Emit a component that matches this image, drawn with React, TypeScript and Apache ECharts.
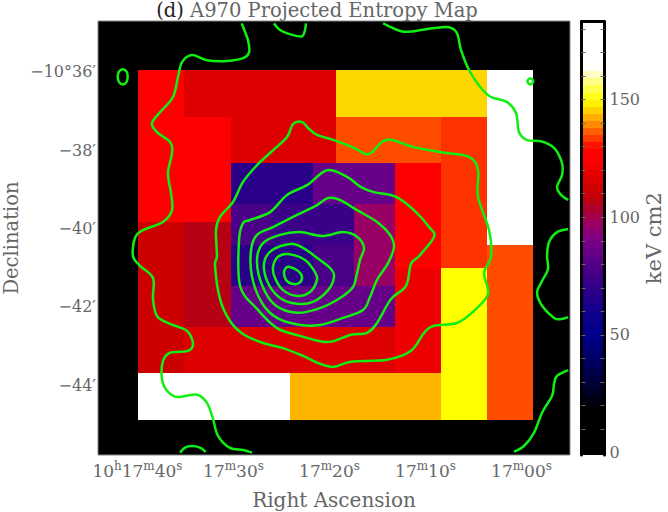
import React, { useEffect, useRef } from "react";
import * as echarts from "echarts";

const FONT = "DejaVu Serif";
const TEXT = "#666666";

const raTicks = [40, 30, 20, 10, 0];
const raLabels = ["10{u|h}17{u|m}40{u|s}", "17{u|m}30{u|s}", "17{u|m}20{u|s}", "17{u|m}10{u|s}", "17{u|m}00{u|s}"];
const decTicks = [-36, -38, -40, -42, -44];
const decLabels = ["−10°36′", "−38′", "−40′", "−42′", "−44′"];
const barLabelTicks = [0, 50, 100, 150];
const barMinorTicks = [10, 20, 30, 40, 50, 60, 70, 80, 90, 100, 110, 120, 130, 140, 150, 160, 170, 180];
const barLevels = [0, 3, 6, 9, 12, 15, 18, 21, 24, 27, 30, 33, 36, 39, 42, 45, 48, 51, 54, 57, 60, 63, 66, 69, 72, 75, 78, 81, 84, 87, 90, 93, 96, 99, 102, 105, 108, 111, 114, 117, 120, 123, 126, 129, 132, 135, 138, 141, 144, 147, 150, 153, 156, 159, 162, 165, 168, 171, 174, 177, 180];

// value -> colour
const paletteStops: [number, number, number, number][] = [
  [0, 0, 0, 0], [18, 0, 0, 0], [35, 0, 0, 80], [50, 0, 0, 140], [60, 16, 0, 140], [68, 42, 0, 136], [73, 58, 0, 136],
  [78, 75, 0, 136], [85, 102, 0, 136], [90, 122, 0, 136], [97, 153, 0, 102], [102, 168, 0, 60], [106, 184, 0, 21],
  [111, 204, 0, 0], [116, 221, 0, 0], [120, 238, 0, 0], [125, 255, 0, 0], [129, 255, 0, 0], [133, 255, 51, 0],
  [135, 255, 77, 0], [140, 255, 144, 0], [143, 255, 180, 0], [146, 255, 215, 0], [150, 255, 255, 0], [155, 255, 255, 85],
  [161, 255, 255, 204], [164, 255, 255, 255], [184, 255, 255, 255],
];

// cells: RA east, RA west (s), Dec north, Dec south (arcmin), entropy
const cells: [number, number, number, number, number][] = [
  [39.95, 35.15, -35.96, -37.145, 125],
  [39.95, 35.15, -37.145, -39.84, 125],
  [35.15, 30.23, -37.145, -39.84, 125],
  [35.15, 19.32, -35.96, -37.145, 116],
  [30.23, 19.32, -37.145, -38.33, 116],
  [19.32, 3.59, -35.96, -37.145, 146],
  [19.32, 8.35, -37.145, -38.33, 135],
  [8.35, 3.59, -37.145, -41.0, 133],
  [3.59, -1.23, -35.96, -40.42, 175],
  [3.59, -1.23, -40.42, -44.88, 135],
  [13.17, 8.35, -38.33, -41.0, 125],
  [13.17, 8.35, -41.0, -43.68, 120],
  [8.35, 3.59, -41.0, -44.88, 150],
  [39.95, 35.15, -39.84, -43.68, 111],
  [35.15, 30.23, -39.84, -42.51, 106],
  [35.15, 13.17, -42.51, -43.68, 116],
  [39.95, 24.11, -43.68, -44.88, 175],
  [24.11, 8.35, -43.68, -44.88, 143],
  [30.23, 21.72, -38.33, -39.37, 68],
  [21.72, 13.17, -38.33, -39.37, 85],
  [30.23, 25.99, -39.37, -40.42, 78],
  [25.99, 17.45, -39.37, -40.42, 73],
  [17.45, 13.17, -39.37, -40.42, 97],
  [30.23, 21.72, -40.42, -41.46, 68],
  [21.72, 17.45, -40.42, -41.46, 78],
  [17.45, 13.17, -40.42, -41.46, 97],
  [30.23, 13.17, -41.46, -42.51, 85],
];

const contourOuterLeft = [[29.14,-34.76],[28.49,-35.19],[28.38,-35.5],[29.01,-35.65],[30.67,-35.72],[32.76,-35.7],[34.32,-35.57],[35.36,-35.75],[35.78,-36.13],[36.3,-36.64],[37.65,-37.03],[38.49,-37.31],[37.97,-37.54],[36.61,-37.79],[36.4,-38.07],[36.82,-38.58],[36.51,-39.09],[36.4,-39.53],[37.34,-39.83],[39.42,-40.04],[40.26,-40.24],[40.47,-40.7],[39.74,-40.95],[38.38,-41.26],[38.38,-41.8],[37.97,-42.23],[36.61,-42.43],[34.84,-42.61],[34.22,-42.94],[34.74,-43.12],[36.61,-43.17],[37.34,-43.38],[37.45,-43.84],[36.92,-44.14],[35.88,-44.3],[33.8,-44.24],[32.76,-44.45],[32.13,-44.86],[31.61,-45.29],[30.36,-45.6],[29.01,-45.65],[28.07,-45.72]];
const contourTopSmall = [[25.78,-34.76],[25.15,-34.93],[23.8,-35.06],[22.86,-35.09],[22.55,-34.93],[22.45,-34.76]];
const contourIslandLeft = [[41.54,-35.93],[41.14,-35.99],[41.02,-36.12],[41.14,-36.26],[41.54,-36.32],[41.92,-36.26],[42.06,-36.12],[41.92,-35.99],[41.54,-35.93]];
const contourIslandRight = [[-0.92,-36.16],[-1.23,-36.24],[-0.92,-36.32],[-0.61,-36.24],[-0.92,-36.16]];
const contourBottomArc = [[35.57,-45.72],[35.05,-45.59],[34.35,-45.55],[33.49,-45.59],[32.89,-45.7]];
const contourTopRight = [[14.42,-34.76],[12.55,-34.96],[11.2,-34.96],[9.11,-34.88],[7.55,-34.86],[6.72,-35.01],[6.3,-35.44],[5.47,-35.95],[4.22,-36.41],[3.17,-36.64],[1.51,-36.77],[0.57,-37.05],[0.26,-37.54],[-0.58,-37.74],[-2.03,-37.77],[-3.39,-37.94],[-4.22,-38.33],[-4.22,-38.63],[-3.7,-38.94],[-4.12,-39.14],[-4.85,-39.27]];
const contourRightArc = [[-4.85,-40.01],[-3.7,-40.09],[-2.87,-40.34],[-2.66,-40.7],[-2.76,-41.03],[-2.14,-41.34],[-1.62,-41.64],[-2.14,-41.97],[-3.39,-42.28],[-4.12,-42.31],[-4.85,-42.26]];
const contourBottomRight = [[-4.85,-43.61],[-3.7,-43.76],[-3.39,-43.96],[-3.18,-44.27],[-2.14,-44.7],[-1.31,-45.21],[-0.26,-45.55],[0.78,-45.7]];
const contourB = [[22.86,-37.28],[22.24,-37.43],[21.3,-37.61],[19.53,-37.74],[17.45,-37.94],[16.2,-38.1],[15.57,-38.05],[14.53,-37.79],[13.49,-37.74],[11.2,-37.92],[8.38,-38.05],[5.47,-38.17],[4.53,-38.51],[4.53,-39.19],[3.38,-40.04],[3.17,-40.7],[3.9,-41.13],[3.49,-41.67],[4.95,-42.1],[6.72,-42.41],[9.11,-42.48],[10.15,-42.66],[11.51,-43.12],[14.01,-43.35],[17.76,-43.4],[19.53,-43.53],[20.99,-43.45],[22.76,-43.25],[24.84,-43.05],[26.92,-42.92],[29.01,-42.69],[30.36,-42.36],[31.4,-41.8],[31.92,-40.95],[31.72,-40.7],[31.82,-40.04],[31.4,-39.7],[30.05,-39.32],[29.01,-38.81],[27.55,-38.38],[25.88,-38.0],[24.42,-37.66],[23.8,-37.33],[22.86,-37.28]];
const contourC = [[20.26,-38.51],[18.17,-38.68],[16.72,-38.94],[15.36,-39.07],[13.07,-39.19],[11.2,-39.53],[9.63,-39.96],[9.11,-40.21],[10.67,-40.7],[11.51,-40.9],[12.03,-41.46],[13.59,-41.8],[15.05,-42.41],[16.09,-42.66],[17.76,-42.71],[19.53,-42.87],[20.67,-42.89],[23.07,-42.74],[25.47,-42.54],[27.55,-42.05],[29.32,-41.46],[29.42,-40.29],[29.01,-39.86],[28.28,-39.78],[26.19,-39.58],[24.42,-39.14],[22.34,-38.89],[20.26,-38.51]];
const contourD = [[20.15,-39.22],[18.9,-39.27],[17.13,-39.53],[15.05,-39.83],[13.7,-40.16],[13.28,-40.47],[13.9,-40.88],[15.05,-41.31],[15.78,-41.75],[16.51,-42.08],[18.59,-42.28],[20.99,-42.46],[23.07,-42.46],[25.47,-42.28],[27.03,-41.9],[28.07,-41.23],[28.17,-40.55],[27.55,-40.16],[25.88,-39.96],[23.38,-39.65],[21.3,-39.4],[20.15,-39.22]];
const contourE = [[23.07,-40.09],[20.78,-40.19],[18.59,-40.09],[17.13,-40.21],[16.4,-40.49],[16.82,-40.8],[17.13,-41.13],[17.55,-41.49],[18.9,-41.77],[20.99,-42.03],[23.38,-42.15],[25.67,-41.95],[27.03,-41.44],[27.55,-40.8],[26.92,-40.37],[25.15,-40.16],[23.07,-40.09]];
const contourF = [[24.11,-40.39],[22.76,-40.49],[21.72,-40.67],[19.95,-41.0],[19.53,-41.23],[20.15,-41.57],[21.72,-41.87],[23.38,-41.92],[25.15,-41.77],[26.4,-41.39],[26.82,-40.88],[25.99,-40.55],[24.11,-40.39]];
const contourG = [[24.32,-40.65],[22.55,-40.8],[21.51,-41.11],[21.3,-41.31],[22.03,-41.62],[23.38,-41.72],[24.84,-41.57],[25.67,-41.26],[25.88,-40.98],[25.36,-40.72],[24.32,-40.65]];
const contourH = [[24.11,-40.98],[23.28,-41.08],[22.86,-41.23],[23.17,-41.39],[23.9,-41.41],[24.53,-41.31],[24.74,-41.13],[24.53,-41.0],[24.11,-40.98]];

const contours = [contourOuterLeft, contourTopSmall, contourIslandLeft, contourIslandRight, contourBottomArc, contourTopRight, contourRightArc, contourBottomRight, contourB, contourC, contourD, contourE, contourF, contourG, contourH];

function colorOf(v: number): string {
  for (let i = 1; i < paletteStops.length; i++) {
    const a = paletteStops[i - 1];
    const b = paletteStops[i];
    if (v <= b[0]) {
      const t = (v - a[0]) / (b[0] - a[0] || 1);
      const c = [1, 2, 3].map((k) => Math.round(a[k] + (b[k] - a[k]) * t));
      return `rgb(${c[0]},${c[1]},${c[2]})`;
    }
  }
  return "#fff";
}

// Catmull-Rom through projected points; closed when first and last coincide.
function splinePath(p: number[][]): string {
  const n = p.length;
  const closed = p[0][0] === p[n - 1][0] && p[0][1] === p[n - 1][1];
  const at = (i: number) => {
    if (closed) return p[((i % (n - 1)) + (n - 1)) % (n - 1)];
    return p[Math.max(0, Math.min(n - 1, i))];
  };
  let d = `M${p[0][0].toFixed(2)} ${p[0][1].toFixed(2)}`;
  for (let i = 0; i < n - 1; i++) {
    const p0 = at(i - 1);
    const p1 = at(i);
    const p2 = at(i + 1);
    const p3 = at(i + 2);
    const c1 = [p1[0] + (p2[0] - p0[0]) / 6, p1[1] + (p2[1] - p0[1]) / 6];
    const c2 = [p2[0] - (p3[0] - p1[0]) / 6, p2[1] - (p3[1] - p1[1]) / 6];
    d += `C${c1[0].toFixed(2)} ${c1[1].toFixed(2)} ${c2[0].toFixed(2)} ${c2[1].toFixed(2)} ${p2[0].toFixed(2)} ${p2[1].toFixed(2)}`;
  }
  return d;
}

const barStep = 3;

export default function App() {
  const ref = useRef<HTMLDivElement>(null);
  useEffect(() => {
    const chart = echarts.init(ref.current!, null, { renderer: "svg" });
    const labelBase = { fontFamily: FONT, color: TEXT, fontSize: 16 };
    const nameBase = { fontFamily: FONT, color: TEXT, fontSize: 20 };
    chart.setOption({
      animation: false,
      backgroundColor: "#fff",
      title: {
        text: "{d|(d)} A970 Projected Entropy Map",
        left: 317,
        top: 1,
        padding: 0,
        textAlign: "center",
        textStyle: {
          fontFamily: FONT,
          fontWeight: "normal",
          fontSize: 19.5,
          lineHeight: 19,
          color: TEXT,
          rich: { d: { fontFamily: FONT, fontSize: 19.5, lineHeight: 19, color: "#222" } },
        },
      },
      grid: [
        { left: 98, top: 21, width: 472, height: 434, show: true, backgroundColor: "#000", borderColor: "#888", borderWidth: 1, outerBoundsMode: "none" },
        { left: 581.5, top: 21.5, width: 23, height: 433.5, show: false, outerBoundsMode: "none" },
      ],
      xAxis: [
        {
          type: "value",
          gridIndex: 0,
          inverse: true,
          min: -5.05,
          max: 44.11,
          splitLine: { show: false },
          axisLine: { show: false },
          axisTick: { show: false },
          axisLabel: {
            ...labelBase,
            fontSize: 17,
            margin: 5,
            customValues: raTicks,
            hideOverlap: false,
            formatter: (v: number) => raLabels[raTicks.indexOf(v)],
            rich: { u: { ...labelBase, fontSize: 12, padding: [0, 0, 9, 0] } },
          },
          name: "Right Ascension",
          nameLocation: "middle",
          nameGap: 35,
          nameTextStyle: nameBase,
        },
        {
          type: "value",
          gridIndex: 1,
          position: "top",
          min: 0,
          max: 1,
          z: 5,
          splitLine: { show: false },
          axisLine: { show: true, onZero: false, lineStyle: { color: "#000", width: 3 } },
          axisTick: { show: false },
          axisLabel: { show: false },
        },
      ],
      yAxis: [
        {
          type: "value",
          gridIndex: 0,
          min: -45.78,
          max: -34.7,
          splitLine: { show: false },
          axisLine: { show: false },
          axisTick: { show: false },
          axisLabel: {
            ...labelBase,
            margin: 2,
            customValues: decTicks,
            hideOverlap: false,
            formatter: (v: number) => decLabels[decTicks.indexOf(v)],
          },
          name: "Declination",
          nameLocation: "middle",
          nameGap: 77,
          nameMoveOverlap: false,
          nameTextStyle: { ...nameBase, fontSize: 19.5, lineHeight: 20 },
        },
        {
          type: "value",
          gridIndex: 1,
          position: "right",
          min: -1.06,
          max: 183.2,
          z: 5,
          splitLine: { show: false },
          axisLine: { show: true, onZero: false, lineStyle: { color: "#000", width: 3 } },
          axisTick: { show: true, inside: true, length: 4, customValues: barMinorTicks, lineStyle: { color: "#666" } },
          axisLabel: {
            ...labelBase,
            margin: 5,
            customValues: barLabelTicks,
            hideOverlap: false,
          },
          name: "keV cm2",
          nameLocation: "middle",
          nameRotate: 90,
          nameGap: 30,
          nameTextStyle: { ...nameBase, fontSize: 21 },
        },
        {
          type: "value",
          gridIndex: 1,
          position: "left",
          min: -1.06,
          max: 183.2,
          z: 5,
          splitLine: { show: false },
          axisLine: { show: true, onZero: false, lineStyle: { color: "#000", width: 3 } },
          axisTick: { show: true, inside: true, length: 4, customValues: barMinorTicks, lineStyle: { color: "#666" } },
          axisLabel: { show: false },
        },
      ],
      series: [
        {
          type: "custom",
          xAxisIndex: 0,
          yAxisIndex: 0,
          silent: true,
          z: 1,
          data: cells,
          renderItem: (_p: any, api: any) => {
            const a = api.coord([api.value(0), api.value(2)]);
            const b = api.coord([api.value(1), api.value(3)]);
            const x0 = Math.round(a[0]);
            const y0 = Math.round(a[1]);
            return {
              type: "rect",
              shape: { x: x0, y: y0, width: Math.round(b[0]) - x0, height: Math.round(b[1]) - y0 },
              style: { fill: colorOf(api.value(4)) },
            };
          },
        },
        {
          type: "custom",
          xAxisIndex: 0,
          yAxisIndex: 0,
          silent: true,
          z: 3,
          data: contours.map((_, i) => [i]),
          renderItem: (_p: any, api: any) => ({
            type: "path",
            shape: { pathData: splinePath(contours[api.value(0)].map((pt) => api.coord(pt))) },
            style: { fill: "none", stroke: "#11ee11", lineWidth: 2.5 },
          }),
        },
        {
          type: "custom",
          xAxisIndex: 1,
          yAxisIndex: 1,
          silent: true,
          z: 1,
          data: barLevels.map((v) => [v]),
          renderItem: (_p: any, api: any) => {
            const v = api.value(0);
            const lo = api.coord([0, v === 0 ? -1.06 : v]);
            const hi = api.coord([1, v + barStep]);
            const yTop = Math.round(hi[1]);
            return {
              type: "rect",
              shape: { x: lo[0], y: yTop, width: hi[0] - lo[0], height: Math.round(lo[1]) - yTop },
              style: { fill: colorOf(v + barStep / 2) },
            };
          },
        },
      ],
    });
    return () => chart.dispose();
  }, []);
  return <div ref={ref} style={{ position: "fixed", left: 0, top: 0, width: 668, height: 512 }} />;
}
